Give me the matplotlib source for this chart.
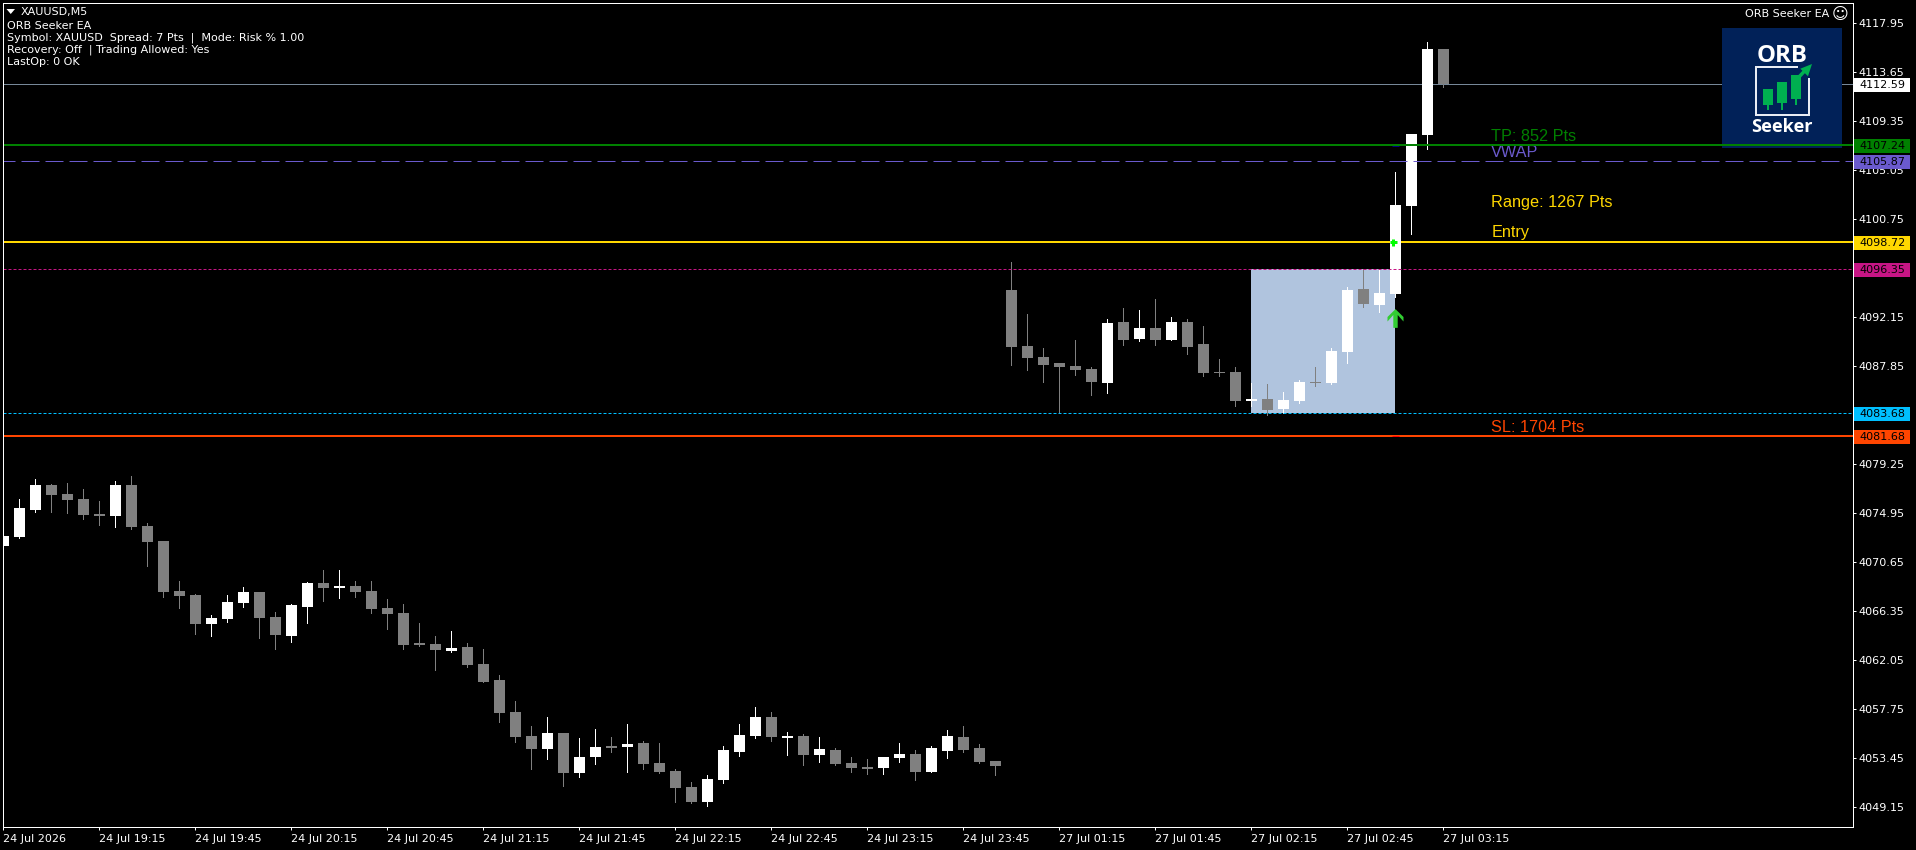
import numpy as np
import matplotlib
matplotlib.use("Agg")
import matplotlib.pyplot as plt
from matplotlib.patches import Rectangle, Polygon
from matplotlib.path import Path
from matplotlib.transforms import Affine2D, IdentityTransform, blended_transform_factory

# ---------- data ----------
opens = [4072.08,4072.87,4075.24,4077.44,4076.64,4076.21,4074.89,4074.71,4077.44,4073.84,
         4072.52,4068.13,4067.78,4065.23,4065.67,4067.08,4068.04,4065.85,4064.18,4066.72,
         4068.83,4068.39,4068.57,4068.13,4066.64,4066.20,4063.56,4063.48,4062.86,4063.21,
         4061.72,4060.31,4057.50,4055.40,4054.25,4055.66,4052.15,4053.55,4054.52,4054.43,
         4054.78,4053.03,4052.32,4050.92,4049.60,4051.53,4053.99,4055.40,4057.06,4055.22,
         4055.40,4053.73,4054.17,4053.03,4052.67,4052.59,4053.46,4053.82,4052.24,4054.08,
         4055.31,4054.34,4053.20,
         4094.55,4089.63,4088.67,4088.14,4087.88,4087.61,4086.39,4091.74,4090.25,4091.21,
         4090.16,4091.74,4089.81,4087.35,4087.35,4084.81,4084.98,4084.10,4084.81,4086.47,
         4086.39,4089.11,4094.64,4093.23,4094.20,4101.93,4108.16,4115.71]
highs = [4073.57,4076.21,4077.96,4077.52,4077.61,4077.08,4076.03,4077.79,4078.23,4074.10,
         4072.52,4069.01,4067.87,4066.02,4067.78,4068.48,4068.04,4066.29,4066.99,4068.92,
         4069.97,4069.97,4069.01,4069.01,4067.43,4066.99,4065.32,4064.18,4064.62,4063.56,
         4063.03,4060.75,4058.47,4056.27,4057.06,4055.66,4055.22,4056.01,4055.31,4056.45,
         4054.96,4054.78,4052.50,4051.36,4051.97,4054.52,4056.45,4057.94,4057.50,4055.75,
         4055.57,4055.31,4054.34,4053.55,4053.38,4053.55,4054.78,4054.17,4054.52,4055.92,
         4056.27,4054.69,4053.20,
         4097.01,4092.44,4089.46,4088.14,4090.16,4087.79,4092.00,4092.97,4092.79,4093.76,
         4092.18,4092.00,4091.39,4088.49,4087.79,4086.39,4086.30,4085.60,4086.65,4087.79,
         4089.46,4094.81,4096.36,4096.31,4104.91,4108.25,4116.33,4115.71]
lows = [4070.93,4072.78,4075.06,4075.06,4074.98,4074.45,4073.92,4073.75,4073.57,4070.32,
        4067.60,4066.64,4064.35,4064.18,4065.41,4066.72,4064.00,4063.04,4063.65,4065.32,
        4067.25,4067.51,4067.60,4066.20,4064.79,4063.04,4063.30,4061.19,4062.77,4061.46,
        4060.14,4056.62,4054.87,4052.50,4053.38,4051.01,4051.80,4052.94,4053.99,4052.24,
        4052.50,4052.15,4049.60,4049.51,4049.25,4051.27,4053.64,4055.22,4054.96,4053.73,
        4052.85,4053.11,4052.85,4052.24,4052.06,4052.06,4053.11,4051.53,4052.24,4053.46,
        4053.99,4053.03,4051.97,
        4087.97,4087.53,4086.47,4083.84,4087.09,4085.33,4085.51,4089.72,4090.07,4089.72,
        4090.16,4088.93,4087.00,4087.00,4084.37,4084.37,4083.58,4083.75,4084.63,4086.12,
        4086.30,4088.14,4093.06,4092.62,4093.94,4099.47,4106.93,4112.38]
closes = [4072.95,4075.42,4077.44,4076.56,4076.12,4074.80,4074.71,4077.44,4073.75,4072.43,
          4068.04,4067.69,4065.23,4065.76,4067.16,4068.04,4065.76,4064.27,4066.90,4068.83,
          4068.39,4068.57,4068.04,4066.55,4066.11,4063.39,4063.39,4062.95,4063.12,4061.63,
          4060.14,4057.42,4055.31,4054.25,4055.66,4052.15,4053.55,4054.43,4054.34,4054.69,
          4052.94,4052.24,4050.83,4049.60,4051.62,4054.17,4055.48,4057.06,4055.31,4055.40,
          4053.73,4054.25,4052.94,4052.59,4052.50,4053.55,4053.82,4052.24,4054.34,4055.40,
          4054.17,4053.11,4052.76,
          4089.55,4088.58,4087.97,4087.79,4087.53,4086.47,4091.65,4090.16,4091.21,4090.16,
          4091.74,4089.55,4087.26,4087.26,4084.81,4084.98,4084.01,4084.89,4086.47,4086.39,
          4089.19,4094.55,4093.32,4094.29,4102.02,4108.25,4115.71,4112.59]

time_labels = ["24 Jul 2026","24 Jul 19:15","24 Jul 19:45","24 Jul 20:15","24 Jul 20:45",
               "24 Jul 21:15","24 Jul 21:45","24 Jul 22:15","24 Jul 22:45","24 Jul 23:15",
               "24 Jul 23:45","27 Jul 01:15","27 Jul 01:45","27 Jul 02:15","27 Jul 02:45",
               "27 Jul 03:15"]
time_ticks = list(range(0, 91, 6))
price_ticks = [4117.95,4113.65,4109.35,4105.05,4100.75,4096.45,4092.15,4087.85,4083.55,
               4079.25,4074.95,4070.65,4066.35,4062.05,4057.75,4053.45,4049.15]

bid = 4112.59
tp = 4107.24
vwap = 4105.87
entry = 4098.72
range_high = 4096.35
range_low = 4083.68
sl = 4081.68
range_start, range_end = 78, 87
signal_bar = 87
arrow_price = 4092.07

info_lines = ["ORB Seeker EA",
              "Symbol: XAUUSD  Spread: 7 Pts  |  Mode: Risk % 1.00",
              "Recovery: Off  | Trading Allowed: Yes",
              "LastOp: 0 OK"]

# ---------- figure ----------
W, H = 1916, 850
plt.rcParams["font.family"] = ["DejaVu Sans"]
fig = plt.figure(figsize=(W/100, H/100), dpi=100, facecolor="black")
L, R, T, B = 2.5, 1852.5, 2.5, 826.5
ax = fig.add_axes([L/W, 1-B/H, (R-L)/W, (B-T)/H], facecolor="black")
PX = 0.72  # points per pixel at dpi 100
ax.set_xlim(-0.056, 115.57)
ax.set_ylim(4047.42, 4119.76)

x = np.arange(len(opens))
o, h, l, c = map(np.array, (opens, highs, lows, closes))
up = c >= o
cols = np.where(up, "#FFFFFF", "#808080")

# rectangle and lines under candles
ax.add_patch(Rectangle((range_start, range_low), range_end-range_start, range_high-range_low,
                       facecolor="#B0C4DE", edgecolor="none", zorder=1, antialiased=False))
ax.axhline(bid, color="#778899", lw=PX, zorder=1.5)
ax.axhline(entry, color="#FFD700", lw=2*PX, zorder=1.5)

# candles
ax.vlines(x, l, h, colors=cols, lw=PX, zorder=3, antialiased=False)
ax.bar(x, np.abs(c-o), bottom=np.minimum(o, c), width=11/16, color=cols, linewidth=0,
       zorder=3, antialiased=False)

# lines over candles
ax.axhline(tp, color="#008000", lw=2*PX, zorder=6)
ax.axhline(sl, color="#FF4500", lw=2*PX, zorder=6)
ax.axhline(vwap, color="#6A5ACD", lw=PX, linestyle=(6, (18, 6)), zorder=4)
ax.axhline(range_high, color="#C71585", lw=PX, linestyle=(0, (3, 2)), zorder=4)
ax.axhline(range_low, color="#00BFFF", lw=PX, linestyle=(0, (3, 2)), zorder=4)

# trade markers
s = 9.35
arrow = Path(np.array([(0,9.35),(8,1.5),(8,-3),(2.2,3.5),(2.2,-9.35),(-2.2,-9.35),(-2.2,3.5),
                       (-8,-3),(-8,1.5),(0,9.35)])/s)
ax.plot([signal_bar], [arrow_price], marker=arrow, ms=18.7*PX, mfc="#32CD32", mew=0, zorder=7)
ax.plot([signal_bar-0.15], [entry], marker="+", ms=7*PX, mec="#00FF00", mew=3*PX, zorder=7)
ax.plot([signal_bar], [tp-0.04], marker="_", ms=7*PX, mec="#000080", mew=PX, zorder=7)
ax.plot([signal_bar], [sl], marker="_", ms=7*PX, mec="#FF0000", mew=PX, zorder=7)

# labels next to the lines
lab_font = dict(family="Liberation Sans", fontsize=16.2*PX, ha="left", va="baseline", zorder=5)
lab_x = 93
ax.text(lab_x, 4107.63, "TP: 852 Pts", color="#008000", **lab_font)
ax.text(lab_x, 4106.20, "VWAP", color="#6A5ACD", **lab_font)
ax.text(lab_x, 4101.84, "Range: 1267 Pts", color="#FFD700", **lab_font)
ax.text(lab_x, 4099.14, "Entry", color="#FFD700", **lab_font)
ax.text(lab_x, 4082.06, "SL: 1704 Pts", color="#FF4500", **lab_font)

# axes
for sp in ax.spines.values():
    sp.set_color("white"); sp.set_linewidth(PX); sp.set_zorder(20)
ax.yaxis.tick_right()
ax.set_yticks(price_ticks)
ax.set_yticklabels([f"{p:.2f}" for p in price_ticks])
ax.set_xticks(time_ticks)
ax.set_xticklabels(time_labels, ha="left")
ax.tick_params(axis="y", colors="white", length=3*PX, width=PX, labelsize=8, pad=3.2*PX)
ax.tick_params(axis="x", colors="white", length=3*PX, width=PX, labelsize=8, pad=3)

# price tags on the right
tag_tf = blended_transform_factory(IdentityTransform(), ax.transData)
tags = [(bid, "#FFFFFF"), (tp, "#008000"), (vwap, "#6A5ACD"), (entry, "#FFD700"),
        (range_high, "#C71585"), (range_low, "#00BFFF"), (sl, "#FF4500")]
for p, col in tags:
    cy = p - 0.07
    ax.add_patch(Rectangle((1854, cy-0.615), 56, 1.23, transform=tag_tf, facecolor=col,
                           edgecolor="none", clip_on=False, zorder=25, antialiased=False))
    ax.text(1859, cy, f"{p:.2f}", transform=tag_tf, color="black", fontsize=8, ha="left",
            va="center", clip_on=False, zorder=26)

# top-left info
fig.text(21/W, 1-12.5/H, "XAUUSD,M5", color="white", fontsize=8, ha="left", va="center")
tri = Polygon([(6.5, H-9), (15, H-9), (10.75, H-14)], closed=True, transform=IdentityTransform(),
              facecolor="white", edgecolor="none")
fig.add_artist(tri)
for i, line in enumerate(info_lines):
    fig.text(7/W, 1-(26+12*i)/H, line, color="white", fontsize=8.05, ha="left", va="center")

# top-right caption
fig.text(1829/W, 1-14/H, "ORB Seeker EA", color="white", fontsize=8, ha="right", va="center")
fig.text(1840.5/W, 1-14/H, "\u263A", color="white", fontsize=11.6, ha="center", va="center")

# logo (pixel coordinates inside a 120 x 120 box)
lt = Affine2D().scale(1, -1).translate(1722, H-28)
z = 5
ax.add_patch(Rectangle((0, 0), 120, 120, transform=lt, facecolor="#012158", edgecolor="none",
                       zorder=z, clip_on=False))
ax.text(60, 34.3, "ORB", transform=lt, color="white", family="Open Sans", weight="bold",
        fontsize=24*PX, ha="center", va="baseline", zorder=z+.1, clip_on=False)
ax.text(60, 104, "Seeker", transform=lt, color="white", family="Open Sans", weight="bold",
        fontsize=18.2*PX, ha="center", va="baseline", zorder=z+.1, clip_on=False)
ax.plot([75, 34, 34, 86.5, 86.5], [39, 39, 86.5, 86.5, 51], transform=lt, color="#E8ECF4",
        lw=2*PX, zorder=z+.1, clip_on=False, solid_joinstyle="miter")
green = "#00B050"
for cx, top, bot, wick in [(45.7, 61, 77, 81), (60, 54, 75, 81), (74.3, 46.7, 70.7, 76)]:
    ax.add_patch(Rectangle((cx-5, top), 10, bot-top, transform=lt, facecolor=green, edgecolor="none",
                           zorder=z+.2, clip_on=False))
    ax.plot([cx, cx], [bot, wick], transform=lt, color=green, lw=2*PX, zorder=z+.2, clip_on=False)
ax.plot([76, 84], [50, 41.5], transform=lt, color=green, lw=3.5*PX, zorder=z+.2, clip_on=False)
ax.add_patch(Polygon([(90, 36), (78.3, 40.7), (86, 48.3)], closed=True, transform=lt, facecolor=green,
                     edgecolor="none", zorder=z+.2, clip_on=False))

fig.savefig("out.png", dpi=100, facecolor="black")
